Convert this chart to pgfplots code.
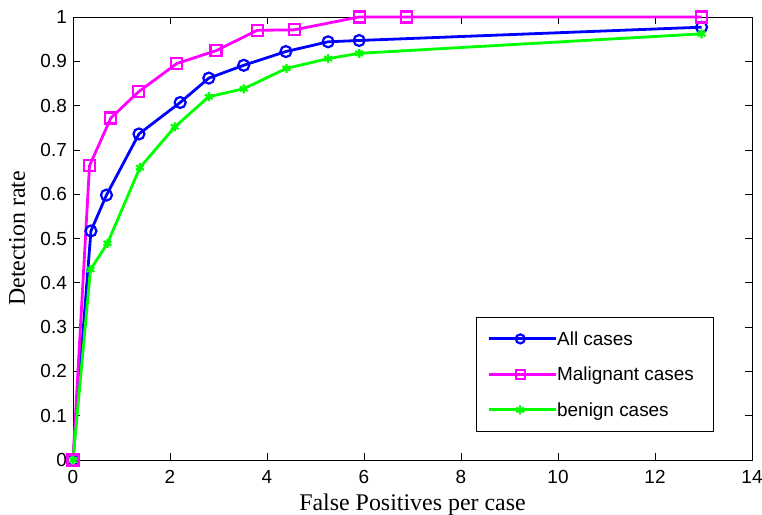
\documentclass[border=0pt]{standalone}
\usepackage{fontspec}
\setmainfont{Liberation Serif}
\newfontfamily\tickfont{Liberation Sans}
\usepackage{pgfplots}
\pgfplotsset{compat=1.18}

\definecolor{mblue}{RGB}{0,0,255}
\definecolor{mmag}{RGB}{255,0,255}
\definecolor{mgreen}{RGB}{0,255,0}

\begin{document}
\begin{tikzpicture}
% page = 762 x 515, axis box at 73..752 / 17..460
\path[use as bounding box] (-73bp,-55bp) rectangle (689bp,460bp);
\begin{axis}[
    scale only axis,
    width=679bp, height=443bp,
    xmin=0, xmax=14, ymin=0, ymax=1,
    clip=false,
    xtick={0,2,4,6,8,10,12,14},
    ytick={0,0.1,0.2,0.3,0.4,0.5,0.6,0.7,0.8,0.9,1},
    tick align=inside,
    major tick length=7bp,
    axis line style={line width=0.8bp},
    tick style={line width=0.6bp, black},
    /pgf/number format/assume math mode=true,
    yticklabel style={font=\tickfont\fontsize{19}{19}\selectfont, inner sep=0pt, xshift=-6bp,
        /pgf/number format/fixed},
    xticklabel style={font=\tickfont\fontsize{19}{19}\selectfont, inner sep=0pt, yshift=-10.5bp},
    xlabel={False Positives per case},
    ylabel={Detection rate},
    every axis x label/.style={at={(rel axis cs:0.5,0)}, anchor=base, yshift=-50.5bp,
        font=\fontsize{24}{24}\selectfont},
    every axis y label/.style={at={(rel axis cs:0,0.5)}, rotate=90, anchor=base, yshift=48bp,
        font=\fontsize{24}{24}\selectfont},
    legend style={at={(0.5935,0.3228)}, anchor=north west, draw=black, line width=0.8bp,
        font=\tickfont\fontsize{19}{19}\selectfont,
        inner xsep=11bp, inner ysep=12bp, row sep=16.5bp,
        nodes={inner sep=0pt, text height=16bp, text depth=3bp}},
    legend cell align=left,
    legend image code/.code={%
        \path (0bp,0bp) -- (67bp,0bp);
        \draw[mark repeat=2,mark phase=2,#1] plot coordinates {(0bp,0bp) (31.5bp,0bp) (63bp,0bp)};},
    legend image post style={mark size=4.5bp},
]

% All cases
\addplot[color=mblue, line width=2.8bp, mark=o, mark size=5.5bp, mark options={line width=2.2bp}] coordinates {
    (0,0) (0.37,0.517) (0.69,0.598) (1.36,0.736) (2.21,0.807) (2.80,0.862)
    (3.52,0.891) (4.39,0.922) (5.26,0.944) (5.90,0.947) (12.96,0.977)
};
\addlegendentry{\makebox[145bp][l]{All cases}}

% Malignant cases
\addplot[color=mmag, line width=2.8bp, mark=square, mark size=5.5bp, mark options={line width=2.2bp}] coordinates {
    (0,0) (0.34,0.664) (0.78,0.772) (1.35,0.831) (2.14,0.895) (2.95,0.924)
    (3.80,0.970) (4.56,0.971) (5.90,1.0) (6.88,1.0) (12.96,1.0)
};
\addlegendentry{Malignant cases}

% benign cases
\addplot[color=mgreen, line width=2.8bp, mark=asterisk, mark size=4.5bp, mark options={line width=2.2bp}] coordinates {
    (0,0) (0.36,0.430) (0.71,0.489) (1.38,0.660) (2.10,0.752) (2.80,0.820)
    (3.52,0.838) (4.40,0.884) (5.26,0.906) (5.90,0.918) (12.96,0.962)
};
\addlegendentry{benign cases}

\end{axis}
\end{tikzpicture}
\end{document}
